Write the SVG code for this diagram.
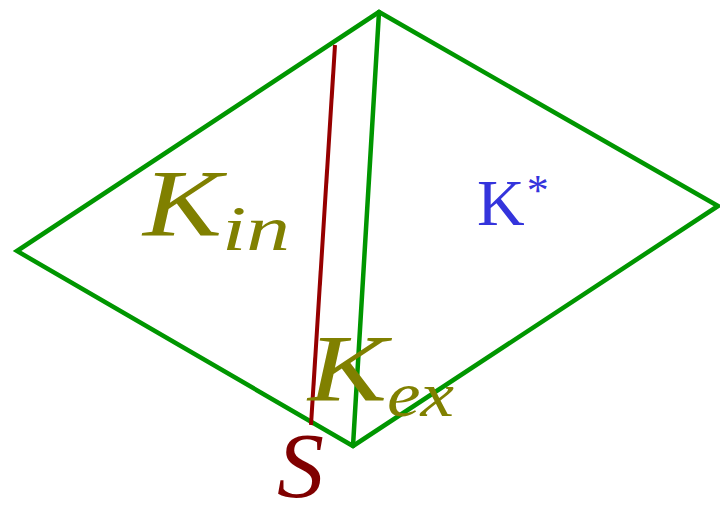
<svg xmlns="http://www.w3.org/2000/svg" width="720" height="507" viewBox="0 0 720 507">
<style>
.edge{fill:none;stroke:#009600;stroke-width:4.5;stroke-linejoin:miter;stroke-linecap:round}
.sep{fill:none;stroke:#960000;stroke-width:4}
.math{font-family:"Liberation Serif",serif;font-style:italic}
.olive{fill:#808000}
</style>
<rect width="720" height="507" fill="#ffffff"/>
<g id="connectors">
<polygon class="edge" points="17,251 379,12 718,206 353,446"/>
<line class="edge" x1="379" y1="12" x2="353" y2="446"/>
<line class="sep" x1="335" y1="45" x2="311" y2="425"/>
</g>
<g id="Kin">
<text class="math olive" x="143" y="236" font-size="96" textLength="79" lengthAdjust="spacingAndGlyphs">K</text>
<text class="math olive" x="222" y="250" font-size="64" textLength="68" lengthAdjust="spacingAndGlyphs">in</text>
</g>
<g id="Kstar">
<text x="477" y="225" font-family="Liberation Serif,serif" font-size="66" fill="#3434dc">K<tspan font-size="44" dx="2" dy="-20">*</tspan></text>
</g>
<g id="Kex">
<text class="math olive" x="308" y="401" font-size="96" textLength="79" lengthAdjust="spacingAndGlyphs">K</text>
<text class="math olive" x="387" y="416" font-size="64" textLength="67" lengthAdjust="spacingAndGlyphs">ex</text>
</g>
<g id="S">
<text class="math" x="277" y="497" font-size="94" fill="#800000">S</text>
</g>
</svg>
